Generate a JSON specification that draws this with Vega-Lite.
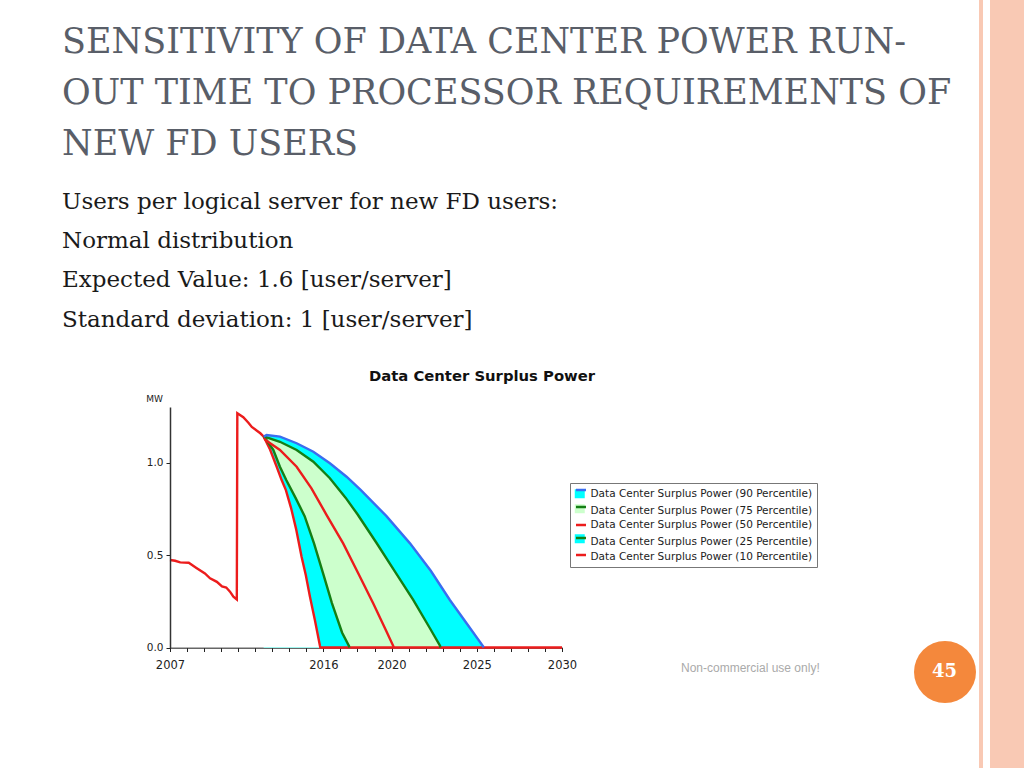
{
  "$schema": "https://vega.github.io/schema/vega-lite/v6.json",
  "width": 392,
  "height": 240.5,
  "autosize": "none",
  "padding": {"left": 170, "top": 407, "right": 462, "bottom": 120.5},
  "background": "white",
  "title": {
    "text": ["SENSITIVITY OF DATA CENTER POWER RUN-", "OUT TIME TO PROCESSOR REQUIREMENTS OF", "NEW FD USERS"],
    "subtitle": ["Users per logical server for new FD users:", "Normal distribution", "Expected Value: 1.6 [user/server]", "Standard deviation: 1 [user/server]"],
    "orient": "top",
    "anchor": "start",
    "frame": "group",
    "dx": -108,
    "offset": 37,
    "font": "DejaVu Serif",
    "fontSize": 35,
    "fontWeight": "normal",
    "color": "#595e68",
    "lineHeight": 51,
    "subtitleFont": "DejaVu Serif",
    "subtitleFontSize": 23,
    "subtitleColor": "#1a1a1a",
    "subtitleLineHeight": 39.3,
    "subtitlePadding": 29
  },
  "data": {"values": [
    {"p": "10", "t": 2007.0, "v": 0.473},
    {"p": "10", "t": 2007.3, "v": 0.469},
    {"p": "10", "t": 2007.6, "v": 0.46},
    {"p": "10", "t": 2008.1, "v": 0.458},
    {"p": "10", "t": 2008.55, "v": 0.43},
    {"p": "10", "t": 2009.05, "v": 0.4},
    {"p": "10", "t": 2009.35, "v": 0.374},
    {"p": "10", "t": 2009.75, "v": 0.355},
    {"p": "10", "t": 2010.05, "v": 0.33},
    {"p": "10", "t": 2010.3, "v": 0.324},
    {"p": "10", "t": 2010.52, "v": 0.302},
    {"p": "10", "t": 2010.72, "v": 0.275},
    {"p": "10", "t": 2010.92, "v": 0.26},
    {"p": "10", "t": 2010.95, "v": 1.266},
    {"p": "10", "t": 2011.3, "v": 1.245},
    {"p": "10", "t": 2011.6, "v": 1.215},
    {"p": "10", "t": 2011.8, "v": 1.192},
    {"p": "10", "t": 2012.1, "v": 1.172},
    {"p": "10", "t": 2012.3, "v": 1.158},
    {"p": "10", "t": 2012.5, "v": 1.14},
    {"p": "10", "t": 2012.87, "v": 1.07},
    {"p": "10", "t": 2013.26, "v": 0.977},
    {"p": "10", "t": 2013.55, "v": 0.905},
    {"p": "10", "t": 2013.8, "v": 0.851},
    {"p": "10", "t": 2014.1, "v": 0.755},
    {"p": "10", "t": 2014.4, "v": 0.64},
    {"p": "10", "t": 2014.72, "v": 0.491},
    {"p": "10", "t": 2014.97, "v": 0.39},
    {"p": "10", "t": 2015.21, "v": 0.275},
    {"p": "10", "t": 2015.5, "v": 0.149},
    {"p": "10", "t": 2015.8, "v": 0.008},
    {"p": "10", "t": 2015.82, "v": 0},
    {"p": "10", "t": 2030, "v": 0},
    {"p": "25", "t": 2012.5, "v": 1.14},
    {"p": "25", "t": 2012.6, "v": 1.13},
    {"p": "25", "t": 2013.06, "v": 1.068},
    {"p": "25", "t": 2013.45, "v": 0.977},
    {"p": "25", "t": 2013.82, "v": 0.905},
    {"p": "25", "t": 2014.36, "v": 0.81},
    {"p": "25", "t": 2014.9, "v": 0.71},
    {"p": "25", "t": 2015.45, "v": 0.563},
    {"p": "25", "t": 2016.0, "v": 0.395},
    {"p": "25", "t": 2016.5, "v": 0.24},
    {"p": "25", "t": 2017.1, "v": 0.08},
    {"p": "25", "t": 2017.5, "v": 0.008},
    {"p": "25", "t": 2017.52, "v": 0},
    {"p": "50", "t": 2012.5, "v": 1.14},
    {"p": "50", "t": 2012.6, "v": 1.122},
    {"p": "50", "t": 2013.45, "v": 1.068},
    {"p": "50", "t": 2014.43, "v": 0.977},
    {"p": "50", "t": 2015.3, "v": 0.86},
    {"p": "50", "t": 2016.19, "v": 0.716},
    {"p": "50", "t": 2017.16, "v": 0.563},
    {"p": "50", "t": 2018.05, "v": 0.4},
    {"p": "50", "t": 2018.92, "v": 0.239},
    {"p": "50", "t": 2019.71, "v": 0.085},
    {"p": "50", "t": 2020.1, "v": 0.008},
    {"p": "50", "t": 2020.12, "v": 0},
    {"p": "75", "t": 2012.5, "v": 1.14},
    {"p": "75", "t": 2012.67, "v": 1.136},
    {"p": "75", "t": 2013.45, "v": 1.112},
    {"p": "75", "t": 2014.43, "v": 1.068},
    {"p": "75", "t": 2015.41, "v": 1.004},
    {"p": "75", "t": 2016.38, "v": 0.915},
    {"p": "75", "t": 2017.3, "v": 0.81},
    {"p": "75", "t": 2018.0, "v": 0.72},
    {"p": "75", "t": 2019.12, "v": 0.565},
    {"p": "75", "t": 2020.2, "v": 0.41},
    {"p": "75", "t": 2021.27, "v": 0.257},
    {"p": "75", "t": 2022.25, "v": 0.104},
    {"p": "75", "t": 2022.84, "v": 0.01},
    {"p": "75", "t": 2022.86, "v": 0},
    {"p": "90", "t": 2012.5, "v": 1.14},
    {"p": "90", "t": 2012.67, "v": 1.149},
    {"p": "90", "t": 2013.45, "v": 1.14},
    {"p": "90", "t": 2014.43, "v": 1.104},
    {"p": "90", "t": 2015.41, "v": 1.058},
    {"p": "90", "t": 2016.38, "v": 0.996},
    {"p": "90", "t": 2017.36, "v": 0.923},
    {"p": "90", "t": 2018.2, "v": 0.851},
    {"p": "90", "t": 2019.7, "v": 0.71},
    {"p": "90", "t": 2021.08, "v": 0.563},
    {"p": "90", "t": 2022.3, "v": 0.415},
    {"p": "90", "t": 2023.42, "v": 0.257},
    {"p": "90", "t": 2024.4, "v": 0.131},
    {"p": "90", "t": 2025.38, "v": 0.005},
    {"p": "90", "t": 2025.4, "v": 0}
  ]},
  "encoding": {
    "x": {
      "field": "t", "type": "quantitative",
      "scale": {"domain": [2007, 2030], "nice": false, "zero": false},
      "axis": {
        "values": [2007,2008,2009,2010,2011,2012,2013,2014,2015,2016,2017,2018,2019,2020,2021,2022,2023,2024,2025,2026,2027,2028,2029,2030],
        "labelExpr": "indexof([2007,2016,2020,2025,2030], datum.value) >= 0 ? '' + datum.value : ''",
        "labelOverlap": false,
        "labelFlush": false,
        "grid": false,
        "tickSize": 4,
        "tickColor": "#222",
        "domainColor": "#333",
        "domainWidth": 1.5,
        "labelFont": "DejaVu Sans",
        "labelFontSize": 11.5,
        "labelColor": "#222",
        "labelPadding": 8,
        "title": "Data Center Surplus Power",
        "titleX": 311.5,
        "titleY": -266.8,
        "titleAlign": "center",
        "titleBaseline": "alphabetic",
        "titleFont": "DejaVu Sans",
        "titleFontSize": 14.8,
        "titleFontWeight": "bold",
        "titleColor": "#111",
        "zindex": 0
      }
    },
    "y": {
      "field": "v", "type": "quantitative",
      "scale": {"domain": [0, 1.3], "nice": false},
      "axis": {
        "values": [0, 0.5, 1.0],
        "format": ".1f",
        "grid": false,
        "tickSize": 4,
        "tickColor": "#222",
        "domainColor": "#333",
        "domainWidth": 1.5,
        "labelFont": "DejaVu Sans",
        "labelFontSize": 10.5,
        "labelColor": "#222",
        "labelPadding": 3,
        "title": "MW",
        "titleAngle": 0,
        "titleX": -16,
        "titleY": -9,
        "titleAlign": "center",
        "titleBaseline": "middle",
        "titleFont": "DejaVu Sans",
        "titleFontSize": 9,
        "titleFontWeight": "normal",
        "titleColor": "#222",
        "zindex": 1
      }
    }
  },
  "layer": [
    {
      "transform": [{"filter": "datum.p === '90'"}],
      "mark": {"type": "area", "strokeWidth": 0},
      "encoding": {
        "fill": {
          "field": "p", "type": "nominal",
          "scale": {"domain": ["90", "75", "50", "25", "10"], "range": ["#00ffff", "#ccffcc", "#ffffff", "#00ffff", "#ffffff"]},
          "legend": {
            "title": null,
            "orient": "none",
            "legendX": 400,
            "legendY": 76,
            "labelExpr": "''",
            "labelFont": "DejaVu Sans",
            "labelFontSize": 10.5,
            "labelOffset": 3,
            "symbolType": "M-1,-0.7H1V1.1H-1Z",
            "symbolSize": 100,
            "symbolStrokeWidth": 0,
            "rowPadding": 4,
            "padding": 4.5
          }
        }
      }
    },
    {
      "transform": [{"filter": "datum.p === '75'"}],
      "mark": {"type": "area", "strokeWidth": 0},
      "encoding": {"fill": {"field": "p", "type": "nominal"}}
    },
    {
      "transform": [{"filter": "datum.p === '25'"}],
      "mark": {"type": "area", "strokeWidth": 0},
      "encoding": {"fill": {"field": "p", "type": "nominal"}}
    },
    {
      "transform": [{"filter": "datum.p === '10'"}],
      "mark": {"type": "area", "strokeWidth": 0},
      "encoding": {"fill": {"field": "p", "type": "nominal"}}
    },
    {
      "mark": {"type": "line", "strokeWidth": 2.4},
      "encoding": {
        "stroke": {
          "field": "p", "type": "nominal",
          "sort": ["90", "75", "50", "25", "10"],
          "scale": {"range": ["#3a6df0", "#157f15", "#ec1c1c", "#157f15", "#ec1c1c"]},
          "legend": {
            "title": null,
            "orient": "none",
            "legendX": 400,
            "legendY": 76,
            "labelExpr": "'Data Center Surplus Power (' + datum.label + ' Percentile)'",
            "labelFont": "DejaVu Sans",
            "labelFontSize": 10.5,
            "labelColor": "#222",
            "labelLimit": 400,
            "labelOffset": 3,
            "symbolType": "M-1,-0.8H1",
            "symbolSize": 100,
            "symbolStrokeWidth": 2.5,
            "rowPadding": 2,
            "padding": 4.5,
            "strokeColor": "#777",
            "encode": {"symbols": {"update": {"shape": {"signal": "datum.value === '50' ? 'M-1,0H1' : datum.value === '10' ? 'M-1,-0.4H1' : 'M-1,-0.8H1'"}}}}
          }
        }
      }
    },
    {
      "mark": {"type": "point", "filled": true, "opacity": 0, "color": "#f4883c"},
      "encoding": {
        "shape": {
          "datum": "45",
          "scale": {"range": ["circle"]},
          "legend": {
            "title": "Non-commercial use only!",
            "titleOrient": "left",
            "titleAnchor": "middle",
            "titleBaseline": "alphabetic",
            "titleFont": "Liberation Sans",
            "titleFontSize": 12,
            "titleFontWeight": "normal",
            "titleColor": "#aaaaaa",
            "titlePadding": 94,
            "orient": "none",
            "legendX": 511,
            "legendY": 234,
            "padding": 0,
            "symbolSize": 3844,
            "symbolFillColor": "#f4883c",
            "symbolStrokeWidth": 0,
            "symbolOpacity": 1,
            "labelFont": "DejaVu Serif",
            "labelFontWeight": "bold",
            "labelFontSize": 18,
            "labelColor": "#ffffff",
            "labelOffset": -44
          }
        }
      }
    },
    {
      "mark": {"type": "point", "filled": true, "opacity": 0, "color": "#f9c9b4"},
      "encoding": {
        "size": {
          "datum": 1,
          "type": "quantitative",
          "scale": {"domain": [0, 1], "range": [0, 400]},
          "legend": {
            "title": null,
            "values": [1],
            "labelExpr": "''",
            "orient": "none",
            "legendX": 820,
            "legendY": -33,
            "padding": 0,
            "symbolType": "M-2.1,-38.4H-1.7V38.4H-2.1Z M-1.0,-38.4H2.6V38.4H-1.0Z",
            "symbolFillColor": "#f9c9b4",
            "symbolStrokeWidth": 0,
            "symbolOpacity": 1,
            "encode": {"symbols": {"update": {"fill": {"value": "#f9c9b4"}, "opacity": {"value": 1}}}}
          }
        }
      }
    }
  ],
  "config": {"view": {"stroke": null}}
}
